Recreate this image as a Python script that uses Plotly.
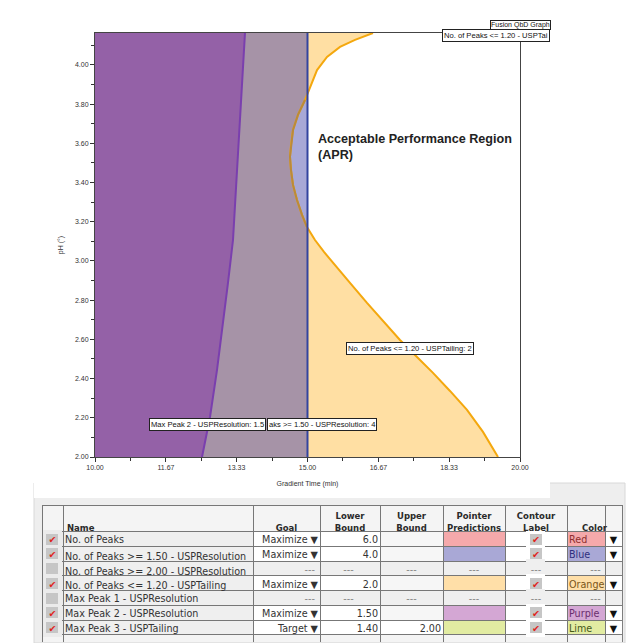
import plotly.graph_objects as go

# page is 638x643 with an 8px body margin around the plotly div
FW, FH = 630, 635
OFF = 8


def fx(px):
    return (px - OFF) / FW


def fy(py):
    return 1 - (py - OFF) / FH


# ---------------- data ----------------
x_range = [10.0, 20.0]
y_range = [2.0, 4.163]

# orange contour: No. of Peaks <= 1.20 - USPTailing = 2
orange_x = [16.541, 16.118, 15.765, 15.459, 15.224, 15.082, 14.941, 14.776, 14.659, 14.612,
            14.588, 14.612, 14.659, 14.753, 14.871, 14.988, 15.176, 15.388, 15.600, 16.000,
            16.400, 16.800, 17.176, 17.576, 17.953, 18.353, 18.753, 19.129, 19.482]
orange_y = [4.163, 4.128, 4.092, 4.041, 3.974, 3.898, 3.821, 3.745, 3.668, 3.592,
            3.531, 3.464, 3.388, 3.311, 3.235, 3.173, 3.107, 3.046, 2.990, 2.888,
            2.786, 2.689, 2.597, 2.510, 2.429, 2.337, 2.240, 2.128, 2.000]

# purple contour: Max Peak 2 - USPResolution = 1.5
purple_x = [13.529, 13.435, 13.341, 13.247, 13.129, 13.012, 12.871, 12.706, 12.518]
purple_y = [4.163, 3.821, 3.464, 3.107, 2.888, 2.684, 2.444, 2.204, 2.000]

# blue contour: No. of Peaks >= 1.50 - USPResolution = 4
blue_x = 15.0

x_tickvals = [10.0, 11.67, 13.33, 15.0, 16.67, 18.33, 20.0]
x_ticktext = ["10.00", "11.67", "13.33", "15.00", "16.67", "18.33", "20.00"]
x_minor = [10.833, 12.5, 14.167, 15.833, 17.5, 19.167]

# table
names = ["No. of Peaks", "No. of Peaks >= 1.50 - USPResolution", "No. of Peaks >= 2.00 - USPResolution",
         "No. of Peaks <= 1.20 - USPTailing", "Max Peak 1 - USPResolution",
         "Max Peak 2 - USPResolution", "Max Peak 3 - USPTailing"]
checked = [True, True, False, True, False, True, True]
goals = ["Maximize ▼", "Maximize ▼", "---", "Maximize ▼", "---", "Maximize ▼", "Target ▼"]
lower = ["6.0", "4.0", "---", "2.0", "---", "1.50", "1.40"]
upper = ["", "", "---", "", "---", "", "2.00"]
color_names = ["Red", "Blue", "---", "Orange", "---", "Purple", "Lime"]
color_fills = ["#F5A9AB", "#A9A8D6", "#EFEFEF", "#FFDFA8", "#EFEFEF", "#D4A7D4", "#E2ECA2"]
color_text = ["#8E2F2F", "#2F2F7E", "#888888", "#7A5518", "#888888", "#6A2D6E", "#46581A"]

# ---------------- figure ----------------
fig = go.Figure()

ORANGE_FILL = "#FFDFA3"
GREY_FILL = "#A693A7"
LAV_FILL = "#A8A8D6"
PURPLE_FILL = "#9461A7"

fig.add_trace(go.Scatter(
    x=[x_range[0]] + orange_x + [x_range[0]],
    y=[y_range[1]] + orange_y + [y_range[0]],
    fill="toself", fillcolor=ORANGE_FILL, mode="none", hoverinfo="skip"))
fig.add_trace(go.Scatter(
    x=[x_range[0], blue_x, blue_x, x_range[0]],
    y=[y_range[0], y_range[0], y_range[1], y_range[1]],
    fill="toself", fillcolor=GREY_FILL, mode="none", hoverinfo="skip"))
bx = [v for v in orange_x if v < blue_x]
by = [orange_y[i] for i, v in enumerate(orange_x) if v < blue_x]
fig.add_trace(go.Scatter(
    x=[blue_x] + bx + [blue_x], y=[by[0]] + by + [by[-1]],
    fill="toself", fillcolor=LAV_FILL, mode="none", hoverinfo="skip"))
fig.add_trace(go.Scatter(
    x=[x_range[0]] + purple_x + [x_range[0]],
    y=[y_range[1]] + purple_y + [y_range[0]],
    fill="toself", fillcolor=PURPLE_FILL, mode="none", hoverinfo="skip"))

fig.add_trace(go.Scatter(x=orange_x, y=orange_y, mode="lines",
                         line=dict(color="#F4A80E", width=2), hoverinfo="skip"))
fig.add_trace(go.Scatter(x=bx, y=by, mode="lines",
                         line=dict(color="#B98A3C", width=2), hoverinfo="skip"))
fig.add_trace(go.Scatter(x=purple_x, y=purple_y, mode="lines",
                         line=dict(color="#7A3FAE", width=2), hoverinfo="skip"))
fig.add_trace(go.Scatter(x=[blue_x, blue_x], y=y_range, mode="lines",
                         line=dict(color="#33449F", width=2), hoverinfo="skip"))

# ---------------- table ----------------
n = len(names)
NB = "\u00a0"
grey = "#EFEFEF"
chk_bg = "#EBEBEB"
active = [g != "---" for g in goals]
ROW_H = 14.75
HEAD_H = 26.7
TABLE_TOP = 505
BODY_TOP = TABLE_TOP + HEAD_H

# grid table: fills + lines only
goal_fill = ["white" if a else grey for a in active]
upper_fill = [("white" if u else "#F6F6F6") if a else grey for u, a in zip(upper, active)]
pp_fill = [cf if a else grey for cf, a in zip(color_fills, active)]
cl_fill = ["white" if a else grey for a in active]
arrow_fill = ["white" if a else grey for a in active]
extra = "#F4F4F4"
blank = [""] * (n + 1)
fig.add_trace(go.Table(
    domain=dict(x=[fx(42), fx(622)], y=[0, fy(TABLE_TOP)]),
    columnwidth=[21, 190, 67, 60, 63, 62, 62, 38, 17],
    header=dict(values=[""] * 9, fill_color="#F4F4F4",
                line=dict(color="#777777", width=1), height=HEAD_H),
    cells=dict(values=[blank] * 9,
               fill_color=[[chk_bg] * n + [extra], [grey] * n + [extra], goal_fill + [extra],
                           goal_fill + [extra], upper_fill + [extra], pp_fill + [extra],
                           cl_fill + [extra], color_fills + [extra], arrow_fill + [extra]],
               line=dict(color="#777777", width=1), height=ROW_H),
))

clear = "rgba(0,0,0,0)"

# grey check boxes: header rows of a transparent table, shrunk by a thick border in the cell colour
BOX_BORDER = 3.75
box_fill = "#C6C6C6"
fig.add_trace(go.Table(
    domain=dict(x=[fx(44.6), fx(544.4)], y=[0, fy(BODY_TOP)]),
    columnwidth=[15.75, 468.3, 15.75],
    header=dict(
        values=[[""] * n, [""] * n, [""] * n],
        fill_color=[[box_fill] * n, [clear] * n, [box_fill if a else grey for a in active]],
        line=dict(color=[[chk_bg] * n, [clear] * n, ["white" if a else grey for a in active]],
                  width=[BOX_BORDER, 0, BOX_BORDER]),
        height=ROW_H),
    cells=dict(values=[[] for _ in range(3)], fill_color=clear, line=dict(color=clear, width=0)),
))

# text overlay tables (transparent), one per text row so that rows never grow
txt = "#333333"
dash = "#888888"
TEXT_DROP = 11  # plotly places a text line ~11px below its cell top

# header text (two rows)
fig.add_trace(go.Table(
    domain=dict(x=[fx(48), fx(615)], y=[0, fy(505)]),
    columnwidth=[11, 194, 67, 60, 63, 62, 62, 48],
    header=dict(
        values=[["", ""], ["", "Name"], ["", "Goal"], ["Lower", "Bound"], ["Upper", "Bound"],
                ["Pointer", "Predictions"], ["Contour", "Label"], ["", "Color"]],
        align=["center", "left", "center", "center", "center", "center", "center", "right"],
        fill_color=clear, line=dict(color=clear, width=0),
        font=dict(family="DejaVu Sans", size=8.5, color="#2A2A2A", weight="bold"),
        height=12),
    cells=dict(values=[[] for _ in range(8)], fill_color=clear, line=dict(color=clear, width=0)),
))

nb = lambda s: s.replace(" ", NB)
for i in range(n):
    a = active[i]
    row_vals = [
        "✔" if checked[i] else "",
        nb(names[i]),
        nb(goals[i]) if a else "---" + NB,
        lower[i] if a else "---" + NB * 8,
        upper[i] if a else "---" + NB * 8,
        "" if a else "---",
        "",
        "✔" if a else "---",
        color_names[i] if a else NB * 7 + "---",
        "▼" if a else "",
    ]
    dc = txt if a else dash
    row_cols = [
        "#E0231C", txt, dc, dc, dc, dash, dash,
        "#E0231C" if a else dash, color_text[i], "#111111",
    ]
    center = BODY_TOP + ROW_H * i + ROW_H / 2
    top = center - TEXT_DROP
    fig.add_trace(go.Table(
        domain=dict(x=[fx(48), fx(620)], y=[0, fy(top)]),
        columnwidth=[9, 196, 73, 60, 63, 50, 12, 50, 46, 13],
        header=dict(
            values=row_vals,
            align=["center", "left", "right", "right", "right", "center", "center", "center",
                   "left", "center"],
            fill_color=clear, line=dict(color=clear, width=0),
            font=dict(family="DejaVu Sans", size=9.6, color=row_cols),
            height=ROW_H),
        cells=dict(values=[[] for _ in range(10)], fill_color=clear,
                   line=dict(color=clear, width=0)),
    ))

# ---------------- layout ----------------
ann_font = dict(family="Liberation Sans, Arial", size=7.6, color="#111111")
annotations = [
    dict(x=11.27, y=2.168, xref="x", yref="y", xanchor="left", yanchor="middle",
         text="Max Peak 2 - USPResolution: 1.5", showarrow=False, font=ann_font,
         bgcolor="white", bordercolor="#222222", borderwidth=1, borderpad=1),
    dict(x=14.05, y=2.168, xref="x", yref="y", xanchor="left", yanchor="middle",
         text="aks >= 1.50 - USPResolution: 4", showarrow=False, font=ann_font,
         bgcolor="white", bordercolor="#222222", borderwidth=1, borderpad=1),
    dict(x=15.906, y=2.554, xref="x", yref="y", xanchor="left", yanchor="middle",
         text="No. of Peaks <= 1.20 - USPTailing: 2", showarrow=False, font=ann_font,
         bgcolor="white", bordercolor="#222222", borderwidth=1, borderpad=1),
    dict(x=fx(490), y=fy(24.5), xref="paper", yref="paper", xanchor="left", yanchor="middle",
         text="Fusion QbD Graph", showarrow=False,
         font=dict(family="Liberation Sans, Arial", size=7, color="#111111"),
         bgcolor="white", bordercolor="#222222", borderwidth=1, borderpad=0),
    dict(x=fx(442), y=fy(35), xref="paper", yref="paper", xanchor="left", yanchor="middle",
         text="No. of Peaks <= 1.20 - USPTai", showarrow=False, font=ann_font,
         bgcolor="white", bordercolor="#222222", borderwidth=1, borderpad=1),
    dict(x=15.2, y=3.668, xref="x", yref="y", xanchor="left", yanchor="top",
         text="<b>Acceptable Performance Region</b><br><b>(APR)</b>", showarrow=False, align="left",
         font=dict(family="Liberation Sans, Arial", size=12.6, color="#222222")),
]

shapes = [
    dict(type="rect", xref="paper", yref="paper", x0=fx(34), x1=fx(625), y0=0, y1=fy(483),
         fillcolor="#EEEEEE", line=dict(color="#D8D8D8", width=1), layer="below"),
    dict(type="rect", xref="paper", yref="paper", x0=fx(34), x1=fx(550), y0=fy(498), y1=fy(482),
         fillcolor="white", line=dict(width=0), layer="below"),
]

tick_font = dict(family="Liberation Sans, Arial", size=7, color="#333333")
fig.update_layout(
    width=FW, height=FH,
    margin=dict(l=0, r=0, t=0, b=0),
    paper_bgcolor="white", plot_bgcolor="white",
    showlegend=False,
    annotations=annotations,
    shapes=shapes,
    xaxis=dict(domain=[fx(95), fx(520)], range=x_range, tickmode="array",
               tickvals=x_tickvals, ticktext=x_ticktext, automargin=False,
               ticks="outside", ticklen=4, tickcolor="#333333", tickwidth=1,
               minor=dict(tickmode="array", tickvals=x_minor, ticks="outside", ticklen=3,
                          tickcolor="#333333"),
               showgrid=False, zeroline=False, showline=True, linecolor="#444444",
               linewidth=1, mirror=True, tickfont=tick_font,
               title=dict(text="Gradient Time (min)", font=tick_font, standoff=10)),
    yaxis=dict(domain=[fy(457), fy(33)], range=y_range, tick0=2.0, dtick=0.2,
               tickformat=".2f", ticks="outside", ticklen=4, tickcolor="#333333", tickwidth=1,
               automargin=False,
               minor=dict(dtick=0.1, ticks="outside", ticklen=3, tickcolor="#333333"),
               showgrid=False, zeroline=False, showline=True, linecolor="#444444",
               linewidth=1, mirror=True, tickfont=tick_font,
               title=dict(text="pH (°)", font=tick_font, standoff=10)),
)

fig.write_html("out.html")
